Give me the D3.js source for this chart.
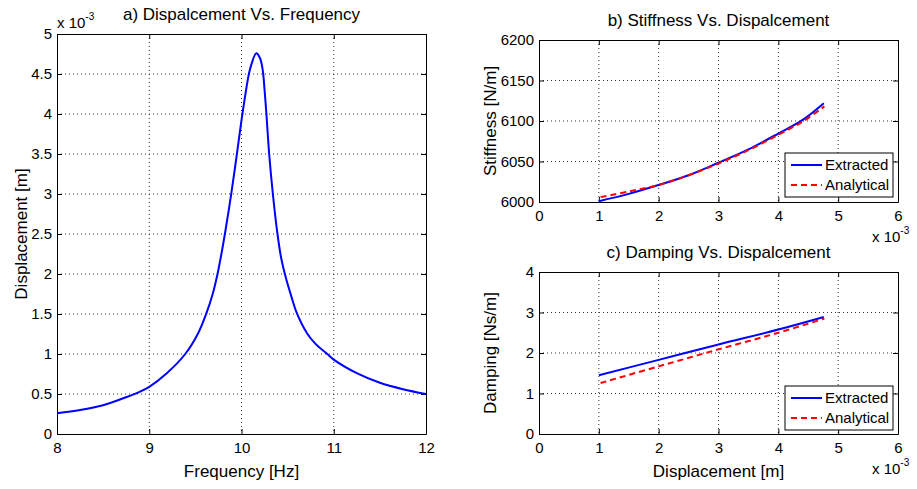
<!DOCTYPE html>
<html>
<head>
<meta charset="utf-8">
<script src="https://cdn.jsdelivr.net/npm/d3@7"></script>
<style>
  body { margin: 0; background: #fff; }
  svg { font-family: "Liberation Sans", Arial, sans-serif; }
  .grid line { stroke: #333; stroke-dasharray: 1,3; stroke-width: 1; }
  .axis path, .axis line { stroke: #000; }
  .axis text { font-size: 15px; fill: #000; }
</style>
</head>
<body>
<div id="chart"></div>
<script>
// a) displacement vs frequency (displacement in x10^-3 m)
const freq = [8.0, 8.25, 8.5, 8.75, 8.9, 9.0, 9.19, 9.39, 9.53, 9.62, 9.69, 9.74, 9.79, 9.82, 9.89, 9.95,
  10.01, 10.08, 10.11, 10.16, 10.20, 10.23, 10.25, 10.27, 10.30, 10.34, 10.39, 10.43, 10.47, 10.54,
  10.60, 10.71, 10.80, 10.93, 11.0, 11.25, 11.5, 11.75, 12.0];
const disp = [0.26, 0.30, 0.36, 0.46, 0.53, 0.59, 0.76, 1.0, 1.26, 1.51, 1.76, 2.0, 2.30, 2.50, 3.01, 3.5,
  4.0, 4.5, 4.63, 4.76, 4.70, 4.55, 4.30, 4.0, 3.5, 3.0, 2.5, 2.2, 2.0, 1.72,
  1.51, 1.26, 1.13, 1.0, 0.93, 0.76, 0.64, 0.56, 0.50];

// b) stiffness vs displacement
const stiffDispExt = [1.0, 1.5, 2.0, 2.5, 3.0, 3.5, 4.0, 4.4, 4.76];
const stiffExt = [6001, 6010, 6021, 6033, 6048.5, 6065, 6084.5, 6101, 6122];
const stiffDispAna = [1.03, 1.5, 2.0, 2.5, 3.0, 3.5, 4.0, 4.4, 4.77];
const stiffAna = [6006, 6013, 6021, 6033, 6047.5, 6064, 6083, 6099, 6118];

// c) damping vs displacement
const dampDispExt = [1.0, 2.0, 3.0, 4.0, 4.76];
const dampExt = [1.45, 1.83, 2.21, 2.58, 2.89];
const dampDispAna = [1.03, 2.0, 3.0, 4.0, 4.77];
const dampAna = [1.26, 1.67, 2.09, 2.50, 2.85];

const legendNames = ["Extracted", "Analytical"];

const width = 917, height = 489;
const svg = d3.select("#chart").append("svg")
  .attr("width", width).attr("height", height);
svg.append("rect").attr("width", width).attr("height", height).attr("fill", "#fff");

function zip(xs, ys) { return xs.map((x, i) => [x, ys[i]]); }

function panel(o) {
  const x = d3.scaleLinear().domain(o.xDomain).range([o.left, o.right]);
  const y = d3.scaleLinear().domain(o.yDomain).range([o.bottom, o.top]);
  const g = svg.append("g");

  // grid
  const grid = g.append("g").attr("class", "grid");
  grid.selectAll(".gx").data(o.xTicks.slice(1, -1)).enter().append("line")
    .attr("x1", d => x(d)).attr("x2", d => x(d)).attr("y1", o.top).attr("y2", o.bottom);
  grid.selectAll(".gy").data(o.yTicks.slice(1, -1)).enter().append("line")
    .attr("y1", d => y(d)).attr("y2", d => y(d)).attr("x1", o.left).attr("x2", o.right);

  // axes (inward ticks, box)
  g.append("g").attr("class", "axis").attr("transform", `translate(0,${o.bottom})`)
    .call(d3.axisBottom(x).tickValues(o.xTicks).tickSizeInner(-5).tickSizeOuter(0).tickPadding(8).tickFormat(d3.format("")));
  g.append("g").attr("class", "axis").attr("transform", `translate(0,${o.top})`)
    .call(d3.axisTop(x).tickValues(o.xTicks).tickSizeInner(-5).tickSizeOuter(0).tickFormat(""));
  g.append("g").attr("class", "axis").attr("transform", `translate(${o.left},0)`)
    .call(d3.axisLeft(y).tickValues(o.yTicks).tickSizeInner(-5).tickSizeOuter(0).tickPadding(5).tickFormat(d3.format("~g")));
  g.append("g").attr("class", "axis").attr("transform", `translate(${o.right},0)`)
    .call(d3.axisRight(y).tickValues(o.yTicks).tickSizeInner(-5).tickSizeOuter(0).tickFormat(""));

  // lines
  const line = d3.line().x(d => x(d[0])).y(d => y(d[1])).curve(d3.curveCatmullRom.alpha(0.5));
  o.series.forEach(s => {
    g.append("path").datum(s.data).attr("d", line)
      .attr("fill", "none").attr("stroke", s.color).attr("stroke-width", 2)
      .attr("stroke-dasharray", s.dash || null);
  });

  // title and labels
  g.append("text").attr("x", (o.left + o.right) / 2).attr("y", o.top - 14)
    .attr("text-anchor", "middle").attr("font-size", 17).text(o.title);
  if (o.xLabel) g.append("text").attr("x", (o.left + o.right) / 2).attr("y", o.bottom + 43)
    .attr("text-anchor", "middle").attr("font-size", 17).text(o.xLabel);
  g.append("text").attr("transform", `translate(${o.yLabelX},${(o.top + o.bottom) / 2}) rotate(-90)`)
    .attr("text-anchor", "middle").attr("font-size", 17).text(o.yLabel);

  return { x, y, g };
}

function exponent(xPos, yPos) {
  const t = svg.append("text").attr("x", xPos).attr("y", yPos).attr("font-size", 15);
  t.append("tspan").text("x 10");
  t.append("tspan").attr("font-size", 10).attr("dy", -8).text("-3");
}

function legend(x0, y0) {
  const g = svg.append("g");
  g.append("rect").attr("x", x0).attr("y", y0).attr("width", 108).attr("height", 44)
    .attr("fill", "#fff").attr("stroke", "#000");
  const styles = [{ color: "#0000ff", dash: null }, { color: "#ff0000", dash: "6,4" }];
  legendNames.forEach((n, i) => {
    const yy = y0 + 12 + i * 20;
    g.append("line").attr("x1", x0 + 6).attr("x2", x0 + 37).attr("y1", yy).attr("y2", yy)
      .attr("stroke", styles[i].color).attr("stroke-width", 2).attr("stroke-dasharray", styles[i].dash);
    g.append("text").attr("x", x0 + 40).attr("y", yy + 5).attr("font-size", 15).text(n);
  });
}

panel({
  left: 57, right: 426, top: 34, bottom: 434,
  xDomain: [8, 12], yDomain: [0, 5],
  xTicks: [8, 9, 10, 11, 12], yTicks: d3.range(0, 5.01, 0.5),
  title: "a) Dispalcement Vs. Frequency", xLabel: "Frequency [Hz]", yLabel: "Displacement [m]", yLabelX: 27,
  series: [{ data: zip(freq, disp), color: "#0000ff" }]
});
exponent(57, 28);

panel({
  left: 539, right: 898, top: 40, bottom: 202,
  xDomain: [0, 6], yDomain: [6000, 6200],
  xTicks: d3.range(0, 7), yTicks: [6000, 6050, 6100, 6150, 6200],
  title: "b) Stiffness Vs. Dispalcement", yLabel: "Stiffness [N/m]", yLabelX: 496,
  series: [
    { data: zip(stiffDispExt, stiffExt), color: "#0000ff" },
    { data: zip(stiffDispAna, stiffAna), color: "#ff0000", dash: "6,4" }
  ]
});
exponent(872, 242);
legend(785, 153);

panel({
  left: 539, right: 898, top: 272, bottom: 434,
  xDomain: [0, 6], yDomain: [0, 4],
  xTicks: d3.range(0, 7), yTicks: [0, 1, 2, 3, 4],
  title: "c) Damping Vs. Dispalcement", xLabel: "Displacement [m]", yLabel: "Damping [Ns/m]", yLabelX: 496,
  series: [
    { data: zip(dampDispExt, dampExt), color: "#0000ff" },
    { data: zip(dampDispAna, dampAna), color: "#ff0000", dash: "6,4" }
  ]
});
exponent(872, 474);
legend(785, 386);
</script>
</body>
</html>
